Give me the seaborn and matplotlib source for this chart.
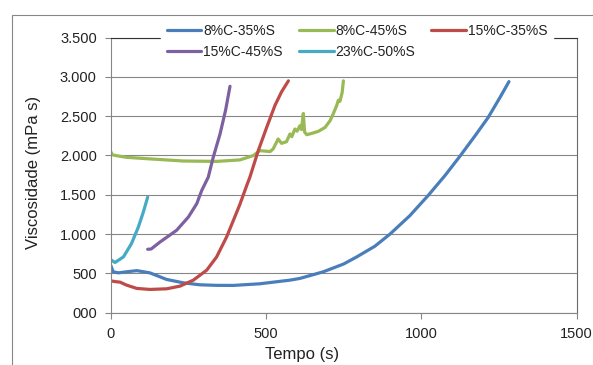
import pandas as pd
import seaborn as sns
import matplotlib.pyplot as plt
from matplotlib.patches import Rectangle
from matplotlib.ticker import FixedLocator, FixedFormatter

# Viscosity curves (time in s, viscosity in mPa s)
t_8c35s = [0, 8, 25, 50, 84, 126, 180, 234, 287, 340, 395, 480, 577, 609, 684,
           750, 792, 850, 899, 963, 1022, 1076, 1124, 1173, 1215, 1253, 1282]
v_8c35s = [604, 520, 507, 520, 535, 507, 423, 380, 355, 348, 347, 368, 414, 436, 520,
           620, 710, 845, 1000, 1235, 1492, 1745, 1990, 2252, 2484, 2738, 2940]

t_8c45s = [0, 5, 15, 51, 126, 234, 341, 416, 459, 480, 502, 513, 523, 539, 550,
           566, 577, 583, 593, 600, 609, 614, 620, 624, 631, 647, 668, 690, 706,
           716, 727, 733, 738, 741, 745, 749]
v_8c45s = [2050, 2010, 2000, 1977, 1957, 1930, 1925, 1944, 1999, 2062, 2054, 2050,
           2084, 2210, 2155, 2176, 2274, 2240, 2337, 2310, 2379, 2330, 2535, 2300,
           2265, 2281, 2307, 2357, 2442, 2527, 2632, 2704, 2690, 2738, 2800, 2950]

t_15c35s = [0, 15, 30, 51, 84, 126, 180, 223, 266, 309, 341, 373, 395, 416, 438,
            448, 475, 502, 529, 550, 572]
v_15c35s = [406, 395, 389, 351, 309, 296, 304, 338, 414, 541, 710, 963, 1175, 1380,
            1620, 1724, 2062, 2357, 2640, 2810, 2950]

t_15c45s = [119, 130, 159, 212, 250, 277, 293, 314, 330, 352, 370, 384]
v_15c45s = [807, 810, 900, 1048, 1217, 1387, 1555, 1724, 1977, 2274, 2580, 2880]

t_23c50s = [0, 5, 14, 41, 67, 89, 105, 119]
v_23c50s = [677, 660, 639, 710, 880, 1090, 1280, 1470]

series_names = ["8%C-35%S", "8%C-45%S", "15%C-35%S", "15%C-45%S", "23%C-50%S"]
series_colors = ["#4A7EBB", "#98B954", "#BE4B48", "#7D60A0", "#46AAC5"]

y_ticks = [0, 500, 1000, 1500, 2000, 2500, 3000, 3500]
y_tick_labels = ["000", "500", "1.000", "1.500", "2.000", "2.500", "3.000", "3.500"]
x_ticks = [0, 500, 1000, 1500]

series = [(t_8c35s, v_8c35s), (t_8c45s, v_8c45s), (t_15c35s, v_15c35s),
          (t_15c45s, v_15c45s), (t_23c50s, v_23c50s)]

sns.set_style("white")
plt.rcParams["font.family"] = ["Liberation Sans", "DejaVu Sans"]

fig = plt.figure(figsize=(5.93, 3.65), dpi=100)
ax = fig.add_axes([110.7 / 593, 1 - 312.7 / 365, 466 / 593, 275.1 / 365])

grid_col = "#868686"

for (t, v), name, col in zip(series, series_names, series_colors):
    df = pd.DataFrame({"t": t, "v": v})
    sns.lineplot(data=df, x="t", y="v", sort=False, estimator=None,
                 color=col, linewidth=2.3, label=name, ax=ax,
                 solid_capstyle="round", solid_joinstyle="round")

ax.set_xlim(0, 1500)
ax.set_ylim(0, 3500)
ax.xaxis.set_major_locator(FixedLocator(x_ticks))
ax.yaxis.set_major_locator(FixedLocator(y_ticks))
ax.yaxis.set_major_formatter(FixedFormatter(y_tick_labels))
ax.grid(axis="y", color=grid_col, linewidth=0.8)
ax.set_axisbelow(True)

for side in ["left", "bottom"]:
    ax.spines[side].set_color(grid_col)
    ax.spines[side].set_linewidth(0.8)
ax.spines["right"].set_color("#6a6a6a")
ax.spines["right"].set_linewidth(0.8)
ax.spines["top"].set_color("#333333")
ax.spines["top"].set_linewidth(0.8)

ax.tick_params(axis="both", direction="out", length=4, width=0.8,
               color=grid_col, labelsize=10.5, labelcolor="#222222")
ax.tick_params(axis="x", pad=6, bottom=True)
ax.tick_params(axis="y", pad=6, left=True)

ax.set_xlabel("")
ax.set_ylabel("")
fig.text(302 / 593, 1 - 354 / 365, "Tempo (s)", ha="center", va="center",
         fontsize=12, color="#222222")
fig.text(34 / 593, 1 - 172 / 365, "Viscosidade (mPa s)", ha="center",
         va="center", rotation=90, fontsize=12, color="#222222")

# legend in row-major order, three columns
handles, labels = ax.get_legend_handles_labels()
order = [0, 3, 1, 4, 2]
leg = ax.legend([handles[i] for i in order], [labels[i] for i in order],
                ncol=3, loc="upper left",
                bbox_to_anchor=(161 / 593, 1 - 18 / 365),
                bbox_transform=fig.transFigure, borderaxespad=0,
                frameon=True, fancybox=False, facecolor="white",
                edgecolor="white", framealpha=1, fontsize=10,
                handlelength=2.5, handletextpad=0.15, columnspacing=1.15,
                labelspacing=0.5, borderpad=0.4)
for line in leg.get_lines():
    line.set_linewidth(2.3)
for txt in leg.get_texts():
    txt.set_color("#222222")

# outer chart frame
fig.add_artist(Rectangle((12 / 593, -0.1), 1.0, 1.1 - 15 / 365,
                         transform=fig.transFigure, fill=False,
                         edgecolor=grid_col, linewidth=0.8))

plt.savefig("out.png", dpi=100)
